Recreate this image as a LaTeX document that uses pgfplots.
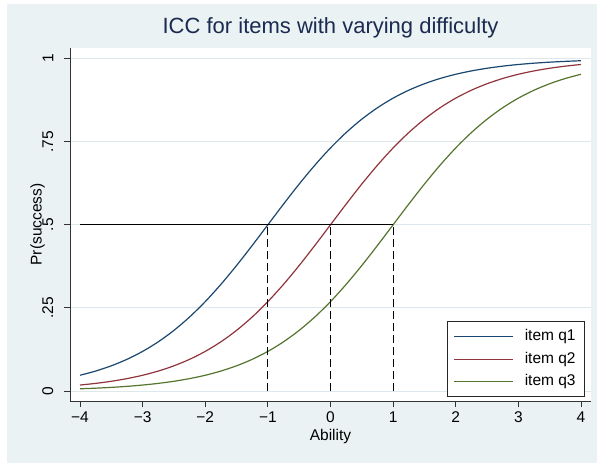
\documentclass[border=0pt]{standalone}
\usepackage{fontspec}
\setmainfont{Liberation Sans}
\usepackage{pgfplots}
\usepackage{pgfplotstable}
\pgfplotsset{compat=1.18}

\definecolor{bgcol}{RGB}{234,242,243}
\definecolor{gridcol}{RGB}{222,232,236}
\definecolor{titlecol}{RGB}{26,42,80}
\definecolor{stnavy}{RGB}{26,71,111}
\definecolor{stmaroon}{RGB}{144,53,59}
\definecolor{stgreen}{RGB}{85,117,47}
\newcommand{\fs}{\fontsize{15.5bp}{18bp}\selectfont}

% logistic ICCs, difficulty -1, 0, 1
\pgfplotstableread{
x      q1        q2        q3
-4     0.047426  0.017986  0.006693
-3.75  0.060087  0.022977  0.008577
-3.5   0.075858  0.029312  0.010987
-3.25  0.095349  0.037327  0.014064
-3     0.119203  0.047426  0.017986
-2.75  0.148047  0.060087  0.022977
-2.5   0.182426  0.075858  0.029312
-2.25  0.222700  0.095349  0.037327
-2     0.268941  0.119203  0.047426
-1.75  0.320821  0.148047  0.060087
-1.5   0.377541  0.182426  0.075858
-1.25  0.437823  0.222700  0.095349
-1     0.500000  0.268941  0.119203
-0.75  0.562177  0.320821  0.148047
-0.5   0.622459  0.377541  0.182426
-0.25  0.679179  0.437823  0.222700
0      0.731059  0.500000  0.268941
0.25   0.777300  0.562177  0.320821
0.5    0.817574  0.622459  0.377541
0.75   0.851953  0.679179  0.437823
1      0.880797  0.731059  0.500000
1.25   0.904651  0.777300  0.562177
1.5    0.924142  0.817574  0.622459
1.75   0.939913  0.851953  0.679179
2      0.952574  0.880797  0.731059
2.25   0.962673  0.904651  0.777300
2.5    0.970688  0.924142  0.817574
2.75   0.977023  0.939913  0.851953
3      0.982014  0.952574  0.880797
3.25   0.985936  0.962673  0.904651
3.5    0.989013  0.970688  0.924142
3.75   0.991423  0.977023  0.939913
4      0.993307  0.982014  0.952574
}\icc

\begin{document}
\begin{tikzpicture}
\fill[bgcol] (7bp,0) rectangle (597bp,459bp);
\path[use as bounding box] (0,0) rectangle (597bp,463bp);
\begin{axis}[
  at={(70bp,62bp)}, anchor=south west,
  scale only axis,
  width=521bp, height=353bp,
  xmin=-4.16, xmax=4.16,
  ymin=-0.030, ymax=1.0316,
  axis background/.style={fill=white},
  axis x line*=bottom, axis y line*=left,
  axis line style={black!80, line width=0.8bp},
  tick align=outside,
  major tick length=6bp,
  tick style={black!80, line width=0.8bp},
  xtick={-4,-3,-2,-1,0,1,2,3,4},
  xticklabels={−4,−3,−2,−1,0,1,2,3,4},
  ytick={0,0.25,0.5,0.75,1},
  yticklabels={0,.25,.5,.75,1},
  ymajorgrids,
  major grid style={gridcol, line width=0.8bp},
  ticklabel style={font=\fs, inner sep=0pt},
  xticklabel style={anchor=north},
  yticklabel style={rotate=90, anchor=south},
  xticklabel shift=4.5bp,
  yticklabel shift=10.5bp,
  title={ICC for items with varying difficulty},
  title style={font=\fontsize{22bp}{26bp}\selectfont, color=titlecol,
    at={(axis description cs:0.5,1.0255)}, anchor=base, inner sep=0pt},
  xlabel={Ability},
  xlabel style={font=\fs, at={(axis description cs:0.5,-0.1105)}, anchor=base, inner sep=0pt},
  ylabel={Pr(success)},
  ylabel style={font=\fs, at={(axis description cs:-0.0545,0.5)}, anchor=base, inner sep=0pt},
  legend cell align=left,
  legend style={at={(axis description cs:0.9885,0.0113)}, anchor=south east,
    draw=black!85, line width=0.8bp, fill=white, font=\fs,
    inner xsep=6bp, inner ysep=5bp, row sep=2.5bp, column sep=8bp,
    nodes={inner xsep=3bp, inner ysep=3bp, text height=11bp, text depth=3bp}},
  legend image code/.code={\draw[#1, line width=1.2bp] (0bp,0bp) -- (59bp,0bp);},
]
\addplot[stnavy, line width=1.2bp, smooth] table[x=x, y=q1] {\icc};
\addlegendentry{item q1\hspace{4bp}}
\addplot[stmaroon, line width=1.2bp, smooth] table[x=x, y=q2] {\icc};
\addlegendentry{item q2\hspace{4bp}}
\addplot[stgreen, line width=1.2bp, smooth] table[x=x, y=q3] {\icc};
\addlegendentry{item q3\hspace{4bp}}
\addplot[black, line width=1.3bp, forget plot] coordinates {(-4,0.5) (1,0.5)};
\addplot[black, line width=1.2bp, dash pattern=on 8bp off 4bp, forget plot] coordinates {(-1,0) (-1,0.5)};
\addplot[black, line width=1.2bp, dash pattern=on 8bp off 4bp, forget plot] coordinates {(0,0) (0,0.5)};
\addplot[black, line width=1.2bp, dash pattern=on 8bp off 4bp, forget plot] coordinates {(1,0) (1,0.5)};
\end{axis}
\end{tikzpicture}
\end{document}
